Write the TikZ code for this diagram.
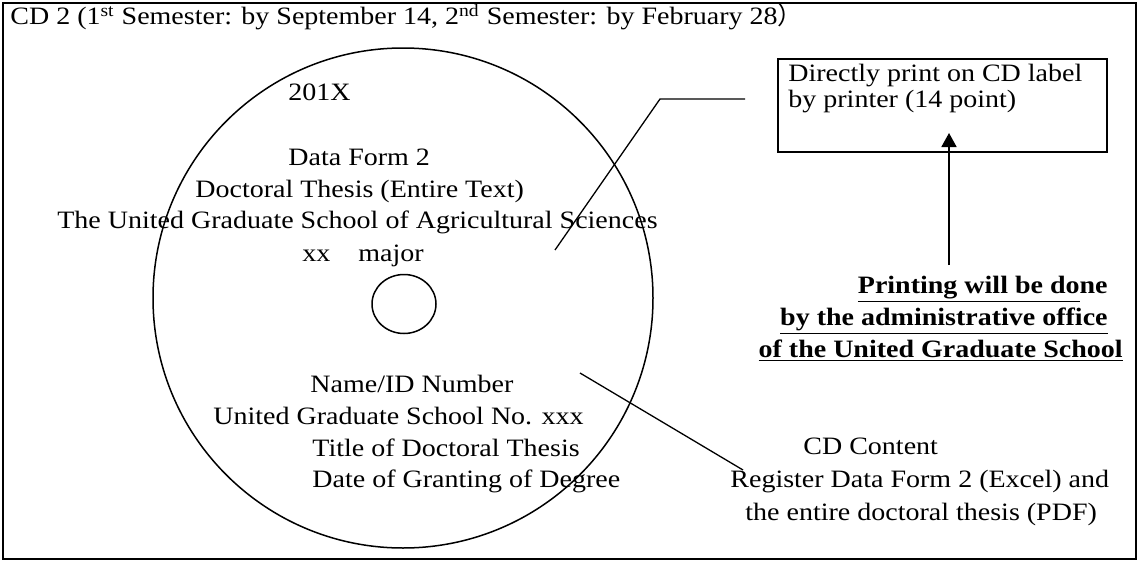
\documentclass[tikz,border=0pt]{standalone}
\usepackage{fontspec}
\setmainfont[FakeStretch=1.12]{Liberation Serif}
\newfontfamily\cjk{Noto Sans CJK SC}
\usepackage{tikz}
\usetikzlibrary{arrows.meta,shapes.geometric,positioning}
\tikzstyle{txt} = [inner sep=0pt, anchor=base west, font=\fontsize{12.5}{15}\selectfont]
\tikzstyle{lead} = [line width=0.65pt]
\tikzstyle{arrow} = [line width=0.9pt,-{Triangle[length=7pt,width=7.5pt]}]

\begin{document}
\begin{tikzpicture}[x=0.5pt, y=-0.5pt]
    \useasboundingbox (0,0) rectangle (1137,562);
    \node[draw, line width=1pt, inner sep=0pt, minimum width=566.5pt, minimum height=278pt, anchor=north west] (frame) at (2,2) {};
    \node[txt] (heading) at (10,25) {CD 2 (1\textsuperscript{st} Semester: by September 14, 2\textsuperscript{nd} Semester: by February 28{\cjk ）}};

    % the disc
    \node[circle, draw, line width=0.75pt, inner sep=0pt, minimum size=250pt] (disc) at (403,298) {};
    \node[ellipse, draw, line width=0.75pt, inner sep=0pt, minimum width=32pt, minimum height=29.5pt] (hole) at (404,304) {};

    \node[txt] (year) at (288,100) {201X};
    \node[txt] (form) at (288,165) {Data Form 2};
    \node[txt] (thesis) at (195,197) {Doctoral Thesis (Entire Text)};
    \node[txt, anchor=base east] (school) at (658,228) {The United Graduate School of Agricultural Sciences};
    \node[txt] (major) at (302,261) {xx\hspace{14pt}major};

    \node[txt] (name) at (310,392) {Name/ID Number};
    \node[txt] (number) at (213,424) {United Graduate School No. xxx};
    \node[txt] (title) at (312,456) {Title of Doctoral Thesis};
    \node[txt] (date) at (312,487) {Date of Granting of Degree};

    % label box
    \node[draw, line width=1pt, inner sep=0pt, minimum width=164.5pt, minimum height=46.5pt, anchor=north west] (box) at (777,58) {};
    \node[txt] (print1) at (788,81) {Directly print on CD label};
    \node[txt] (print2) at (788,107) {by printer (14 point)};

    \node[txt, anchor=base east] (office1) at (1108,293) {\bfseries\underline{Printing will be do}ne};
    \node[txt, anchor=base east] (office2) at (1108,325) {\bfseries\underline{by the administrative office}};
    \node[txt, anchor=base east] (office3) at (1123,357) {\bfseries\underline{of the United Graduate School}};

    \node[txt] (content) at (803,454) {CD Content};
    \node[txt] (content1) at (730,487) {Register Data Form 2 (Excel) and};
    \node[txt] (content2) at (745,520) {the entire doctoral thesis (PDF)};

    % leaders
    \coordinate (upper) at (555,250);
    \coordinate (bend) at (660,99);
    \coordinate (upperend) at (745,99);
    \draw[lead] (upper) -- (bend) -- (upperend);
    \coordinate (lower) at (580,373);
    \coordinate (lowerend) at (743,470);
    \draw[lead] (lower) -- (lowerend);

    \coordinate (foot) at (949,265);
    \coordinate (tip) at (949,133);
    \draw[arrow] (foot) -- (tip);
\end{tikzpicture}
\end{document}
